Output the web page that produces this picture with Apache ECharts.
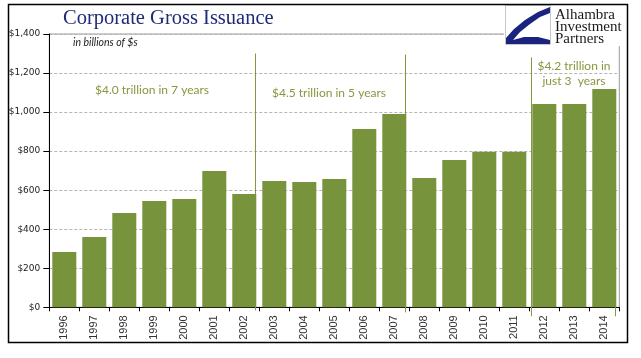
<!DOCTYPE html>
<html><head><meta charset="utf-8">
<script src="https://cdn.jsdelivr.net/npm/echarts@6/dist/echarts.min.js"></script>
<style>html,body{margin:0;padding:0;background:#fff}#c{width:641px;height:358px}</style>
</head><body><div id="c"></div>
<script>
// ---- data ----
const years = ['1996','1997','1998','1999','2000','2001','2002','2003','2004','2005','2006','2007','2008','2009','2010','2011','2012','2013','2014'];
const issuance = [283, 360, 483, 545, 555, 698, 580, 647, 642, 657, 913, 990, 662, 755, 797, 797, 1041, 1041, 1118];
const yMin = 0, yMax = 1400, yStep = 200;
const titleText = 'Corporate Gross Issuance';
const subtitleText = 'in billions of $s';
const notes = ['$4.0 trillion in 7 years', '$4.5 trillion in 5 years', '$4.2 trillion in', 'just 3  years'];
const logoLines = ['Alhambra', 'Investment', 'Partners'];
// bracket lines: year, side of the bar (+1 right edge, -1 left edge), top value
const bracketYears = ['2002', '2007', '2012', '2014'];
const bracketSides = [1, 1, -1, 1];
const bracketTops = [1300, 1295, 1280, 1118];

const GREEN = '#77933C';
const chart = echarts.init(document.getElementById('c'));

const option = {
  animation: false,
  backgroundColor: '#fff',
  grid: { left: 49.3, right: 21.7, top: 34, bottom: 50.7, show: true, borderColor: '#9a9a9a', borderWidth: 1, backgroundColor: 'transparent' },
  xAxis: {
    type: 'category', data: years, boundaryGap: true,
    axisLine: { lineStyle: { color: '#000', width: 1 } },
    axisTick: { show: true, length: 4, lineStyle: { color: '#000' } },
    axisLabel: { rotate: 90, margin: 8, fontFamily: 'Liberation Sans', fontSize: 11, color: '#333' },
    splitLine: { show: false }
  },
  yAxis: {
    type: 'value', min: yMin, max: yMax, interval: yStep,
    axisLine: { show: true, lineStyle: { color: '#000', width: 1 } },
    axisTick: { show: true, length: 6, lineStyle: { color: '#000' } },
    axisLabel: { margin: 9, fontFamily: 'DejaVu Sans', fontSize: 9, color: '#222',
      formatter: v => '$' + v.toLocaleString('en-US') },
    splitLine: { show: true, lineStyle: { color: '#b5b5b5', type: [3, 2], width: 1 } }
  },
  series: [{
    type: 'bar', data: issuance, barCategoryGap: '20%', z: 3,
    itemStyle: { color: GREEN }
  }]
};
chart.setOption(option);

// build annotation graphics from library scales
const g = [];
const band = chart.convertToPixel({ seriesIndex: 0 }, [1, 0])[0] - chart.convertToPixel({ seriesIndex: 0 }, [0, 0])[0];
const halfBar = band * 0.8 / 2;
const y0 = chart.convertToPixel({ seriesIndex: 0 }, [0, 0])[1];
const drops = [3, 5, 9, 9];
bracketYears.forEach((yr, i) => {
  const idx = years.indexOf(yr);
  const p = chart.convertToPixel({ seriesIndex: 0 }, [idx, bracketTops[i]]);
  const x = Math.round(p[0] + bracketSides[i] * halfBar) - 0.5;
  g.push({ type: 'line', z: 1, shape: { x1: x, y1: p[1], x2: x, y2: y0 + drops[i] }, style: { stroke: '#7f9a3a', lineWidth: 1 } });
});

const txt = (t, x, y, font, fill, align) => ({
  type: 'text', z: 20,
  style: { text: t, x: x, y: y, font: font, fill: fill, textAlign: align || 'center', textVerticalAlign: 'middle', align: align || 'center', verticalAlign: 'middle' }
});
const noteFont = '12px Lato';
const noteColor = '#86983f';
g.push(txt(notes[0], 152, 90, noteFont, noteColor));
g.push(txt(notes[1], 329, 93, noteFont, noteColor));
g.push(txt(notes[2], 574, 66, noteFont, noteColor));
g.push(txt(notes[3], 574, 81, noteFont, noteColor));

// title + subtitle
g.push(txt(titleText, 63, 19, '20.5px "Liberation Serif"', '#1f2a78', 'left'));
g.push(txt(subtitleText, 73, 43, 'italic 10.5px Lato', '#222', 'left'));

// logo
g.push({ type: 'rect', z: 15, shape: { x: 504, y: 2, width: 122, height: 44 }, style: { fill: '#fff' } });
g.push({ type: 'rect', z: 16, shape: { x: 505.5, y: 5.5, width: 45, height: 39 }, style: { fill: '#fff', stroke: '#c8c8c8', lineWidth: 1 } });
g.push({ type: 'polygon', z: 17, shape: { points: [[550,7],[538,12],[525,20],[514,29],[506,38],[506,44],[550,44],[550,40],[538,37],[524,37],[513,40],[520,32],[530,24],[540,17],[550,13]] }, style: { fill: '#1a237e' } });
g.push(txt(logoLines[0], 555, 15, '15px "Liberation Serif"', '#1a1a1a', 'left'));
g.push(txt(logoLines[1], 555, 27, '15px "Liberation Serif"', '#1a1a1a', 'left'));
g.push(txt(logoLines[2], 555, 39, '15px "Liberation Serif"', '#1a1a1a', 'left'));

// outer border
g.push({ type: 'rect', z: 30, shape: { x: 8.5, y: 4.5, width: 619, height: 338 }, style: { fill: 'transparent', stroke: '#000', lineWidth: 1.5 } });

chart.setOption({ graphic: { elements: g } });
</script>
</body></html>
